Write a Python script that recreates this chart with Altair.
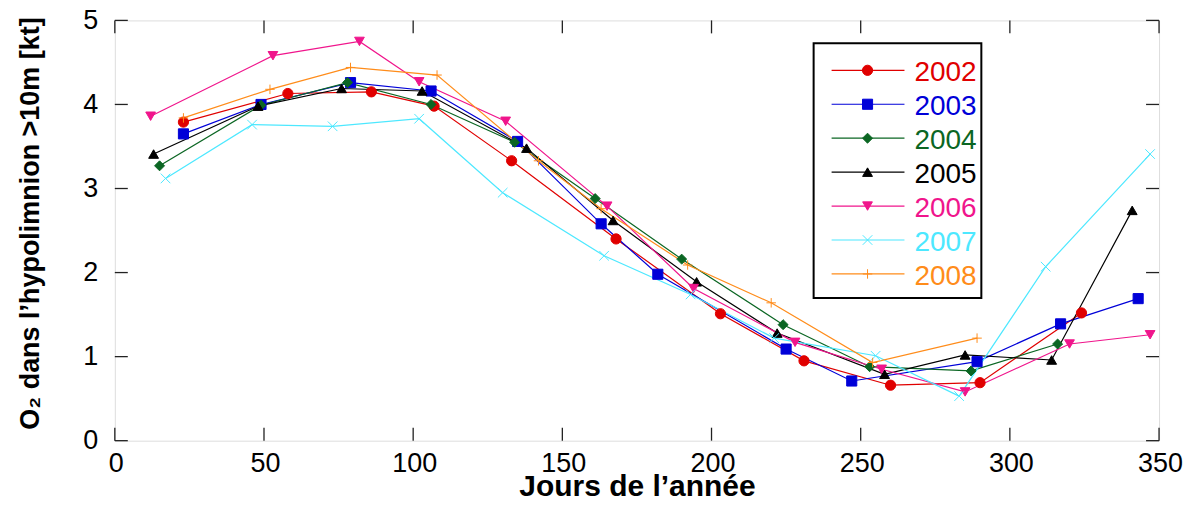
import altair as alt
import pandas as pd

years = ["2002", "2003", "2004", "2005", "2006", "2007", "2008"]
colors = ["#e00000", "#0000d8", "#0b6623", "#000000", "#f0158c", "#4de8ff", "#ff8c1a"]
shapes = ["circle", "square", "diamond", "triangle-up", "triangle-down",
          "M-1,-1L1,1M-1,1L1,-1", "M-1,0L1,0M0,-1L0,1"]
sizes = [105, 90, 60, 95, 105, 95, 100]

days_2002 = [23, 58, 86, 107, 133, 168, 203, 231, 260, 290, 324]
o2_2002 = [3.79, 4.13, 4.15, 3.98, 3.33, 2.40, 1.51, 0.95, 0.66, 0.69, 1.52]

days_2003 = [23, 49, 79, 106, 135, 163, 182, 225, 247, 289, 317, 343]
o2_2003 = [3.65, 4.00, 4.26, 4.16, 3.56, 2.58, 1.98, 1.09, 0.71, 0.94, 1.39, 1.69]

days_2004 = [15, 49, 78, 106, 134, 161, 190, 224, 253, 287, 316]
o2_2004 = [3.27, 3.99, 4.26, 4.00, 3.55, 2.88, 2.16, 1.38, 0.88, 0.83, 1.15]

days_2005 = [13, 48, 76, 103, 138, 167, 195, 222, 258, 285, 314, 341]
o2_2005 = [3.41, 3.98, 4.19, 4.16, 3.48, 2.62, 1.89, 1.28, 0.79, 1.02, 0.96, 2.74]

days_2006 = [12, 53, 82, 102, 131, 165, 194, 228, 257, 285, 320, 347]
o2_2006 = [3.86, 4.58, 4.75, 4.27, 3.80, 2.79, 1.81, 1.17, 0.85, 0.58, 1.15, 1.26]

days_2007 = [17, 46, 73, 102, 130, 164, 193, 221, 255, 283, 312, 347]
o2_2007 = [3.12, 3.76, 3.74, 3.83, 2.95, 2.20, 1.74, 1.22, 1.01, 0.53, 2.07, 3.41]

days_2008 = [23, 52, 79, 108, 142, 163, 192, 220, 254, 289]
o2_2008 = [3.84, 4.18, 4.44, 4.35, 3.33, 2.76, 2.09, 1.64, 0.93, 1.22]

x_ticks = [0, 50, 100, 150, 200, 250, 300, 350]
y_ticks = [0, 1, 2, 3, 4, 5]

series = {
    "2002": (days_2002, o2_2002), "2003": (days_2003, o2_2003),
    "2004": (days_2004, o2_2004), "2005": (days_2005, o2_2005),
    "2006": (days_2006, o2_2006), "2007": (days_2007, o2_2007),
    "2008": (days_2008, o2_2008),
}
rows = []
for yr, (ds, vs) in series.items():
    for d, v in zip(ds, vs):
        rows.append({"year": yr, "day": d, "o2": v})
df = pd.DataFrame(rows)
leg_df = pd.DataFrame({"year": years})
one_df = pd.DataFrame({"a": [0]})
xt_df = pd.DataFrame({"t": x_ticks})
yt_df = pd.DataFrame({"t": y_ticks})

W, H = 1046, 421
FONT = "Liberation Sans"
TL = 13

xs = alt.Scale(domain=[0, 350], nice=False, zero=False)
ys = alt.Scale(domain=[0, 5], nice=False, zero=False)
cs = alt.Scale(domain=years, range=colors)
ss = alt.Scale(domain=years, range=shapes)
zs = alt.Scale(domain=years, range=sizes)

x_axis = alt.Axis(values=x_ticks, title="Jours de l’année", labelFontSize=27,
                  labelPadding=10, labelOffset=1, labelFlush=False, labelOverlap=False,
                  titleFontSize=30, titleFontWeight="bold",
                  titleY=55, titleBaseline="alphabetic", grid=False, ticks=False, domain=False)
y_axis = alt.Axis(values=y_ticks, title="O₂ dans l’hypolimnion >10m [kt]", labelFontSize=27,
                  labelPadding=17, labelFlush=False, titleFontSize=27, titleFontWeight="bold",
                  titleX=-70, titleY=203, titleBaseline="bottom",
                  grid=False, ticks=False, domain=False)

X = alt.X("day:Q", scale=xs, axis=x_axis)
Yq = lambda ax: alt.Y("o2:Q", scale=ys, axis=ax)
C = alt.Color("year:N", scale=cs, legend=None)
S = alt.Stroke("year:N", scale=cs, legend=None)
SH = alt.Shape("year:N", scale=ss, legend=None)
SZ = alt.Size("year:N", scale=zs, legend=None)

lines = alt.Chart(df).mark_line(strokeWidth=1.2).encode(
    x=X, y=Yq(y_axis), color=C, order="day:Q")
points = alt.Chart(df).mark_point(filled=True, opacity=1, strokeWidth=1).encode(
    x=X, y=Yq(None), color=C, stroke=S, shape=SH, size=SZ)

tick_style = dict(color="#222222", strokeWidth=1.3)
xt = alt.X("t:Q", scale=xs, axis=x_axis)
yt = alt.Y("t:Q", scale=ys, axis=None)
t_bottom = alt.Chart(xt_df).mark_rule(**tick_style).encode(
    x=xt, y=alt.value(H), y2=alt.value(H - TL))
t_top = alt.Chart(xt_df).mark_rule(**tick_style).encode(
    x=xt, y=alt.value(0), y2=alt.value(TL))
t_left = alt.Chart(yt_df).mark_rule(**tick_style).encode(
    y=yt, x=alt.value(0), x2=alt.value(TL))
t_right = alt.Chart(yt_df).mark_rule(**tick_style).encode(
    y=yt, x=alt.value(W), x2=alt.value(W - TL))

ly = alt.Y("year:N", scale=alt.Scale(type="point", domain=years, range=[50, 254], padding=0),
           axis=None)
box = alt.Chart(one_df).mark_rect(fill="white", stroke="black", strokeWidth=2).encode(
    x=alt.value(700), x2=alt.value(868), y=alt.value(23), y2=alt.value(278))
leg_lines = alt.Chart(leg_df).mark_rule(strokeWidth=1.2).encode(
    x=alt.value(718), x2=alt.value(791), y=ly, color=C)
leg_pts = alt.Chart(leg_df).mark_point(filled=True, opacity=1, strokeWidth=1).encode(
    x=alt.value(754), y=ly, color=C, stroke=S, shape=SH, size=SZ)
leg_txt = alt.Chart(leg_df).mark_text(align="left", baseline="middle", fontSize=28,
                                      font=FONT, dy=3).encode(
    x=alt.value(801), y=ly, text="year:N", color=C)

chart = alt.layer(
    lines, points, t_bottom, t_top, t_left, t_right, box, leg_lines, leg_pts, leg_txt
).resolve_scale(y="independent").properties(
    width=W, height=H,
    autosize=alt.AutoSizeParams(type="none"),
    padding={"left": 107, "top": 12, "right": 25, "bottom": 56},
).configure_view(stroke="black", strokeWidth=1.6).configure_axis(
    domain=False, grid=False, ticks=False, tickSize=0,
    labelFont=FONT, titleFont=FONT, labelColor="black", titleColor="black",
).configure(background="white")

chart.save("out.html", embed_options={"renderer": "svg", "actions": False})
